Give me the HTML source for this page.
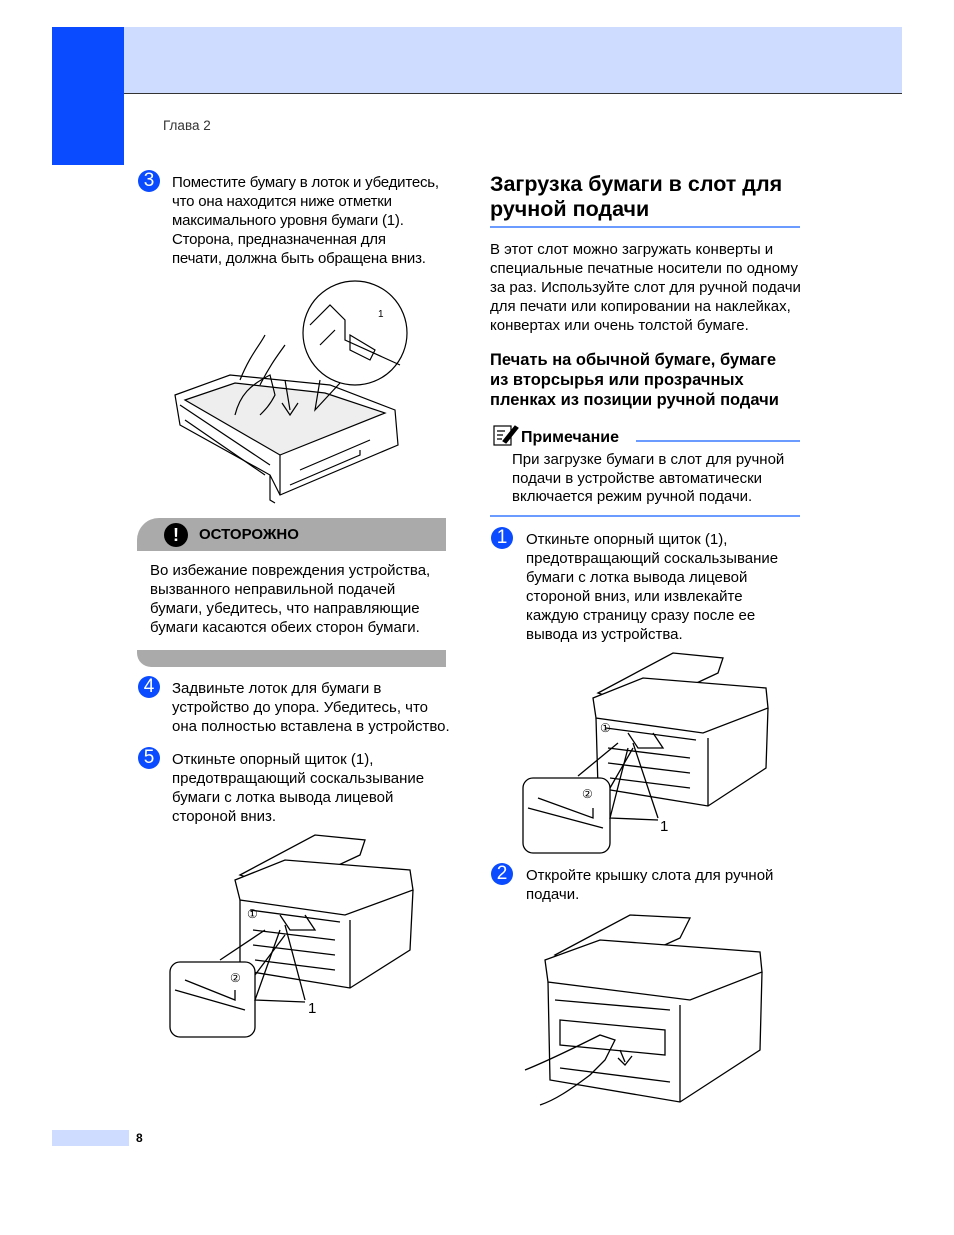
<!DOCTYPE html>
<html><head><meta charset="utf-8"><style>
body{margin:0;width:954px;height:1235px;position:relative;background:#fff;font-family:"Liberation Sans",sans-serif;color:#000;overflow:hidden}
.a{position:absolute}
.t{position:absolute;font-size:15px;line-height:19px;white-space:nowrap}
.n{position:absolute;width:22px;height:22px;border-radius:50%;background:#0a4bff;color:#fff;font-size:19px;line-height:22px;text-align:center}
</style></head><body>
<div class="a" style="left:52px;top:27px;width:72px;height:138px;background:#0a4bff"></div>
<div class="a" style="left:124px;top:27px;width:778px;height:66px;background:#cddcff;border-bottom:1px solid #333"></div>
<div class="t" style="left:163px;top:116px;font-size:13.5px;color:#333">Глава 2</div>

<div class="n" style="left:138px;top:170px">3</div>
<div class="t" style="left:172px;top:173px;letter-spacing:-0.2px">Поместите бумагу в лоток и убедитесь,<br>что она находится ниже отметки<br>максимального уровня бумаги (1).<br>Сторона, предназначенная для<br>печати, должна быть обращена вниз.</div>

<svg class="a" style="left:170px;top:275px" width="240" height="230" viewBox="0 0 240 230" fill="none" stroke="#000" stroke-width="1.2">
<path d="M5 120 L60 100 L160 110 L225 135 L228 170 L110 220 L100 200 L10 150 Z" fill="#fff"/>
<path d="M15 125 L65 108 L155 118 L215 138 L110 180 Z" fill="#eee"/>
<path d="M110 180 L110 220 M100 200 L100 225 L105 228"/>
<path d="M120 210 L190 180 L190 175 M130 195 L200 165"/>
<path d="M10 130 L100 190 M15 145 L95 200"/>
<path d="M70 105 C80 80 90 70 95 60 M90 110 C100 90 108 80 115 70" stroke="#000"/>
<path d="M65 140 C70 120 80 110 100 100 L105 120 C100 130 95 135 90 140"/>
<path d="M115 105 L120 135 M112 128 L120 140 L128 128"/>
<circle cx="185" cy="58" r="52" fill="#fff"/>
<path d="M140 50 L160 30 L175 45 L175 65 L230 90 M150 70 L165 55"/>
<path d="M180 60 L205 75 L200 85 L180 75 Z"/>
<path d="M150 105 L145 135 L170 108"/>
<text x="208" y="42" font-size="10" fill="#000" stroke="none" font-family="Liberation Sans">1</text>
</svg>

<div class="a" style="left:137px;top:518px;width:309px;height:33px;background:#aaa;border-top-left-radius:22px"></div>
<div class="a" style="left:164px;top:523px;width:24px;height:24px;border-radius:50%;background:#000;color:#fff;font-weight:bold;font-size:18px;line-height:24px;text-align:center">!</div>
<div class="t" style="left:199px;top:525px;font-weight:bold;font-size:15px">ОСТОРОЖНО</div>
<div class="t" style="left:150px;top:561px">Во избежание повреждения устройства,<br>вызванного неправильной подачей<br>бумаги, убедитесь, что направляющие<br>бумаги касаются обеих сторон бумаги.</div>
<div class="a" style="left:137px;top:650px;width:309px;height:17px;background:#aaa;border-bottom-left-radius:14px"></div>

<div class="n" style="left:138px;top:676px">4</div>
<div class="t" style="left:172px;top:679px">Задвиньте лоток для бумаги в<br>устройство до упора. Убедитесь, что<br>она полностью вставлена в устройство.</div>
<div class="n" style="left:138px;top:747px">5</div>
<div class="t" style="left:172px;top:750px">Откиньте опорный щиток (1),<br>предотвращающий соскальзывание<br>бумаги с лотка вывода лицевой<br>стороной вниз.</div>

<svg class="a" style="left:165px;top:830px" width="255" height="210" viewBox="0 0 255 210" fill="none" stroke="#000" stroke-width="1.3">
<path d="M75 45 L150 5 L200 10 L195 25 L120 60 Z" fill="#fff"/>
<path d="M70 50 L120 30 L245 40 L248 60 L180 85 L75 70 Z" fill="#fff"/>
<path d="M75 70 L75 140 L185 158 L245 120 L248 60 M185 158 L185 90"/>
<path d="M85 80 L175 92 M88 100 L170 110 M88 115 L170 125 M90 130 L170 140"/>
<path d="M115 85 L125 100 L150 100 L140 85"/>
<rect x="5" y="132" width="85" height="75" rx="10" fill="#fff"/>
<path d="M55 130 L100 100 M90 145 L120 105 M10 160 L80 180 M20 150 L70 170 L70 160"/>
<path d="M120 95 L140 170 M115 100 L90 170 L140 172"/>
<text x="143" y="183" font-size="15" fill="#000" stroke="none" font-family="Liberation Sans">1</text>
<text x="65" y="152" font-size="12" fill="#000" stroke="none" font-family="Liberation Sans">②</text>
<text x="82" y="88" font-size="12" fill="#000" stroke="none" font-family="Liberation Sans">①</text>
</svg>

<div class="t" style="left:490px;top:172px;font-size:21.5px;line-height:25px;font-weight:bold">Загрузка бумаги в слот для<br>ручной подачи</div>
<div class="a" style="left:490px;top:226px;width:310px;height:2px;background:#6b9bff"></div>
<div class="t" style="left:490px;top:240px">В этот слот можно загружать конверты и<br>специальные печатные носители по одному<br>за раз. Используйте слот для ручной подачи<br>для печати или копировании на наклейках,<br>конвертах или очень толстой бумаге.</div>
<div class="t" style="left:490px;top:350px;font-size:16.5px;line-height:20px;font-weight:bold">Печать на обычной бумаге, бумаге<br>из вторсырья или прозрачных<br>пленках из позиции ручной подачи</div>

<svg class="a" style="left:493px;top:423px" width="26" height="24" viewBox="0 0 26 24" fill="none" stroke="#000" stroke-width="1.2"><rect x="1" y="3" width="17" height="19" fill="#fff"/><path d="M4 8h8M4 12h6M4 16h5"/><path d="M10 18 L22 3 L25 5 L13 20 Z" fill="#000"/></svg>
<div class="t" style="left:521px;top:428px;font-size:16px;font-weight:bold">Примечание</div>
<div class="a" style="left:636px;top:440px;width:164px;height:2px;background:#6b9bff"></div>
<div class="t" style="left:512px;top:451px;line-height:18.5px">При загрузке бумаги в слот для ручной<br>подачи в устройстве автоматически<br>включается режим ручной подачи.</div>
<div class="a" style="left:490px;top:515px;width:310px;height:2px;background:#6b9bff"></div>

<div class="n" style="left:491px;top:527px">1</div>
<div class="t" style="left:526px;top:530px">Откиньте опорный щиток (1),<br>предотвращающий соскальзывание<br>бумаги с лотка вывода лицевой<br>стороной вниз, или извлекайте<br>каждую страницу сразу после ее<br>вывода из устройства.</div>

<svg class="a" style="left:518px;top:648px" width="255" height="210" viewBox="0 0 255 210" fill="none" stroke="#000" stroke-width="1.3">
<path d="M80 45 L155 5 L205 10 L200 25 L125 60 Z" fill="#fff"/>
<path d="M75 50 L125 30 L248 40 L250 60 L185 85 L78 70 Z" fill="#fff"/>
<path d="M78 70 L80 140 L190 158 L248 120 L250 60 M190 158 L190 90"/>
<path d="M88 80 L178 92 M90 100 L172 110 M90 115 L172 125 M92 130 L172 140"/>
<path d="M110 85 L120 100 L145 100 L135 85"/>
<rect x="5" y="130" width="87" height="75" rx="10" fill="#fff"/>
<path d="M60 128 L100 95 M92 140 L115 100 M10 160 L85 180 M20 150 L75 170 L75 160"/>
<path d="M115 95 L140 170 M110 100 L92 170 L140 172"/>
<text x="142" y="183" font-size="15" fill="#000" stroke="none" font-family="Liberation Sans">1</text>
<text x="64" y="150" font-size="12" fill="#000" stroke="none" font-family="Liberation Sans">②</text>
<text x="82" y="84" font-size="12" fill="#000" stroke="none" font-family="Liberation Sans">①</text>
</svg>

<div class="n" style="left:491px;top:863px">2</div>
<div class="t" style="left:526px;top:866px">Откройте крышку слота для ручной<br>подачи.</div>

<svg class="a" style="left:520px;top:910px" width="250" height="200" viewBox="0 0 250 200" fill="none" stroke="#000" stroke-width="1.3">
<path d="M35 45 L110 5 L170 8 L160 28 L85 62 Z" fill="#fff"/>
<path d="M25 50 L80 30 L240 42 L242 62 L170 90 L28 72 Z" fill="#fff"/>
<path d="M28 72 L30 170 L160 192 L240 140 L242 62 M160 192 L160 95"/>
<path d="M40 110 L145 120 L145 145 L40 135 Z"/>
<path d="M35 90 L150 100 M40 158 L150 172"/>
<path d="M5 160 C30 150 60 135 80 125 L95 130 L85 150 L70 165 C50 180 35 190 20 195"/>
<path d="M100 140 L105 152 M98 148 L105 155 L112 146"/>
</svg>

<div class="a" style="left:52px;top:1130px;width:77px;height:16px;background:#cddcff"></div>
<div class="t" style="left:136px;top:1129px;font-size:12px;font-weight:bold">8</div>
</body></html>
